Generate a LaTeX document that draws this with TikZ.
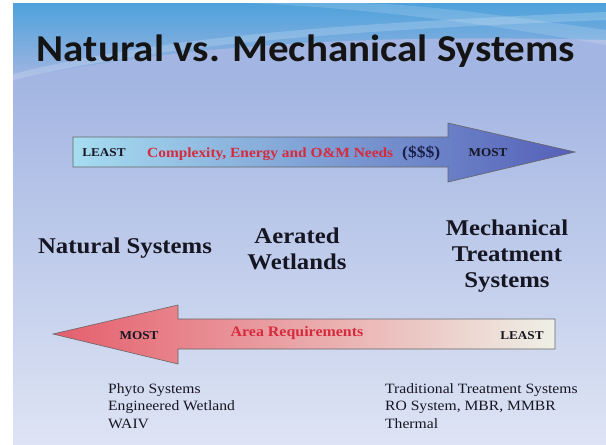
\documentclass[tikz,border=0pt]{standalone}
\usepackage{fontspec}
\setmainfont{Liberation Serif}
\newfontfamily\bodyfont[FakeStretch=1.1]{Liberation Serif}
\newfontfamily\titlefont[FakeStretch=1.08]{Carlito}
\definecolor{bgtop}{HTML}{4EA2DB}
\definecolor{bgmid}{HTML}{A3B5E2}
\definecolor{bgbot}{HTML}{DEE4F4}
\definecolor{txt}{HTML}{161622}
\definecolor{redtxt}{HTML}{D62A3E}
\definecolor{navy}{HTML}{1A1E4A}
\definecolor{arrAleft}{HTML}{A6DCF0}
\definecolor{arrAright}{HTML}{5560B8}
\definecolor{arrBleft}{HTML}{E55E6C}
\definecolor{arrBright}{HTML}{EEF0E6}
\tikzset{
  lbl/.style={font=\bodyfont\bfseries, text=txt, inner sep=0pt},
  big/.style={lbl, font=\bodyfont\bfseries\fontsize{22.5}{26}\selectfont, align=center},
  small/.style={lbl, font=\bodyfont\bfseries\fontsize{12}{14}\selectfont},
  lst/.style={inner sep=0pt, text=txt, align=left, font=\bodyfont\fontsize{14.2}{17.5}\selectfont},
  arrowshape/.style={draw=black!60, line width=0.6pt}
}
\begin{document}
\begin{tikzpicture}[x=1pt,y=-1pt]
\useasboundingbox (0,0) rectangle (606,445);
\fill[white] (0,0) rectangle (606,445);
% background
\shade[top color=bgmid, bottom color=bgbot] (13,80) rectangle (606,445);
\shade[top color=bgtop, bottom color=bgmid] (13,3) rectangle (606,80);
\fill[bgmid] (13,80) .. controls (200,40) and (400,35) .. (606,40) -- (606,80) -- cycle;
\fill[white, opacity=0.18] (13,74) .. controls (150,40) and (300,25) .. (606,12) -- (606,20) .. controls (300,32) and (150,48) .. (13,80) -- cycle;
\fill[white, opacity=0.15] (250,3) .. controls (400,10) and (520,30) .. (606,45) -- (606,30) .. controls (520,18) and (420,3) .. (350,3) -- cycle;
% title
\node[inner sep=0pt, anchor=base, text=black!92, font=\titlefont\bfseries\fontsize{38}{44}\selectfont] (title) at (306,61) {Natural vs. Mechanical Systems};
% top arrow
\shadedraw[arrowshape, left color=arrAleft, right color=arrAright]
  (73,137) -- (448,137) -- (448,123) -- (575,152) -- (448,182) -- (448,167) -- (73,167) -- cycle;
\node[small, anchor=base] (least1) at (104,156) {LEAST};
\node[lbl, text=redtxt, anchor=base west, font=\bodyfont\bfseries\fontsize{14}{16}\selectfont] (cx) at (147,157) {Complexity, Energy and O\&M Needs};
\node[lbl, text=navy, anchor=base west, font=\bodyfont\bfseries\fontsize{16}{18}\selectfont] (dollar) at (402,157) {(\$\$\$)};
\node[small, anchor=base] (most1) at (488,156) {MOST};
% middle labels (anchor base = baseline of last line)
\node[big, anchor=base] (nat) at (125,253) {Natural Systems};
\node[big, anchor=base] (aer) at (297,269) {Aerated\\Wetlands};
\node[big, anchor=base] (mech) at (507,287) {Mechanical\\Treatment\\Systems};
% bottom arrow
\shadedraw[arrowshape, left color=arrBleft, right color=arrBright]
  (555,319) -- (178,319) -- (178,305) -- (53,334) -- (178,364) -- (178,349) -- (555,349) -- cycle;
\node[small, anchor=base] (most2) at (139,339.5) {MOST};
\node[lbl, text=redtxt, anchor=base, font=\bodyfont\bfseries\fontsize{14.5}{16}\selectfont] (area) at (297,336) {Area Requirements};
\node[small, anchor=base] (least2) at (522,339) {LEAST};
% lists
\node[lst, anchor=north west] (l1) at (108,383) {Phyto Systems\\Engineered Wetland\\WAIV};
\node[lst, anchor=north west] (l2) at (385,383) {Traditional Treatment Systems\\RO System, MBR, MMBR\\Thermal};
\end{tikzpicture}
\end{document}
